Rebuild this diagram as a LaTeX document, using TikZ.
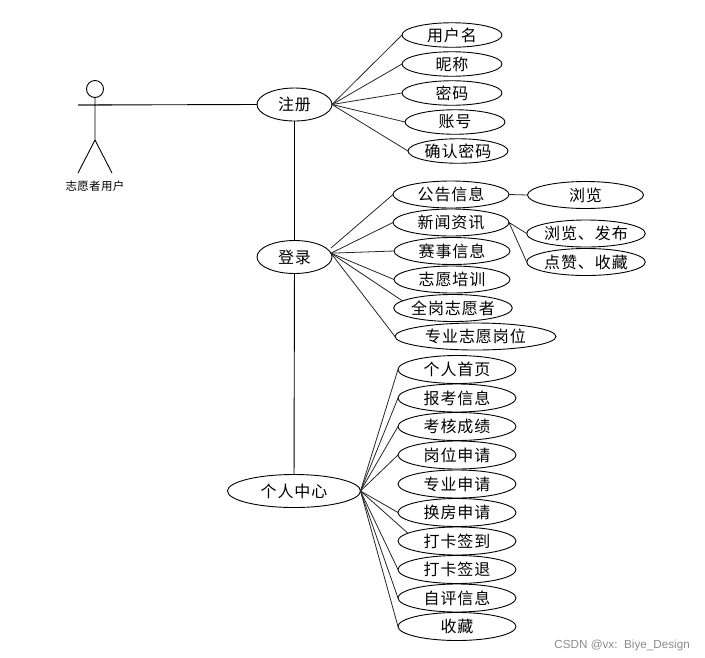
\documentclass[tikz,border=0pt]{standalone}
\usepackage{fontspec}
\setmainfont{Noto Sans CJK SC}
\newfontfamily\markfont{Liberation Sans}
\usetikzlibrary{shapes.geometric}
\tikzset{
  usecase/.style={ellipse, draw=black, line width=0.9pt, inner sep=0pt, outer sep=0pt,
    minimum width=#1, minimum height=27pt,
    font=\fontsize{16}{18}\selectfont\addfontfeature{LetterSpace=6}},
  usecase/.default={116pt},
  mainuse/.style={usecase=#1, minimum height=33pt},
  stick/.style={draw=black, line width=0.9pt},
  assoc/.style={draw=black!85, line width=0.8pt},
}

\begin{document}
\begin{tikzpicture}[x=1pt,y=-1pt]
  \useasboundingbox (0,0) rectangle (705,657);
  % actor
  \node[circle, stick, minimum size=17pt, inner sep=0pt, outer sep=0pt] (head) at (95,89) {};
  \coordinate (hand) at (78,105);
  \coordinate (handr) at (112,105);
  \coordinate (hip) at (95,140);
  \coordinate (footl) at (78,173);
  \coordinate (footr) at (112,173);
  \draw[stick] (head.south) -- (hip) (hip) -- (footl) (hip) -- (footr) (hand) -- (handr);
  \node[font=\fontsize{11.5}{13}\selectfont\addfontfeature{LetterSpace=3}] (actor) at (95,186) {志愿者用户};

  % main use cases
  \node[mainuse=75pt] (reg) at (294.5,104.5) {注册};
  \node[mainuse=75pt] (login) at (294.5,257) {登录};
  \node[mainuse=133pt] (home) at (294,491) {个人中心};
  \draw[stick] (hand) -- (reg.west);
  \draw[stick] (reg) -- (login);
  \draw[stick] (login) -- (home);

  % register
  \node[usecase=100pt, minimum height=24.5pt] (uname) at (452,35) {用户名};
  \node[usecase=100pt, minimum height=24.5pt] (nick) at (452,64) {昵称};
  \node[usecase=100pt, minimum height=24.5pt] (pwd) at (452,93) {密码};
  \node[usecase=100pt, minimum height=24.5pt] (account) at (455,122) {账号};
  \node[usecase=100pt, minimum height=24.5pt] (confirm) at (458,151) {确认密码};
  \foreach \item in {uname,nick,pwd,account,confirm}
    \draw[assoc] (reg.east) -- (\item.west);

  % login
  \node[usecase] (notice) at (451,194.5) {公告信息};
  \node[usecase] (news) at (451,222.5) {新闻资讯};
  \node[usecase] (match) at (452,251) {赛事信息};
  \node[usecase] (train) at (452,279.5) {志愿培训};
  \node[usecase] (fulltime) at (453,308) {全岗志愿者};
  \node[usecase=161pt] (major) at (475.5,336.5) {专业志愿岗位};
  \node[usecase] (browse) at (585.5,195) {浏览};
  \node[usecase] (publish) at (586,233.5) {浏览、发布};
  \node[usecase] (like) at (586,262) {点赞、收藏};
  \coordinate (loginup) at (331,248);
  \draw[assoc] (loginup) -- (notice.west);
  \foreach \item in {news,match,train}
    \draw[assoc] (login.6) -- (\item.west);
  \draw[assoc] (login.6) -- (fulltime.172);
  \draw[assoc] (login.6) -- (major.west);
  \draw[assoc] (notice.east) -- (browse.west);
  \draw[assoc] (news.east) -- (publish.west);
  \draw[assoc] (news.east) -- (like.west);

  % personal centre
  \node[usecase=118pt, minimum height=28pt] (page) at (457,369.5) {个人首页};
  \node[usecase=118pt, minimum height=28pt] (exam) at (457,398) {报考信息};
  \node[usecase=118pt, minimum height=28pt] (score) at (457,426.5) {考核成绩};
  \node[usecase=118pt, minimum height=28pt] (post) at (457,455) {岗位申请};
  \node[usecase=118pt, minimum height=28pt] (subject) at (457,484) {专业申请};
  \node[usecase=118pt, minimum height=28pt] (room) at (457,512.5) {换房申请};
  \node[usecase=118pt, minimum height=28pt] (checkin) at (457,541) {打卡签到};
  \node[usecase=118pt, minimum height=28pt] (checkout) at (457,569.5) {打卡签退};
  \node[usecase=118pt, minimum height=28pt] (review) at (457,598) {自评信息};
  \node[usecase=118pt, minimum height=28pt] (fav) at (457,626.5) {收藏};
  \foreach \item in {page,exam,score,post,room,checkout,review,fav}
    \draw[assoc] (home.east) -- (\item.west);
  \draw[assoc] (home.east) -- (checkin.171);

  \node[font=\markfont\fontsize{11.7}{13}\selectfont, text=black!45, anchor=east, inner sep=0pt] (mark) at (690,645) {CSDN @vx:\ \ Biye\_Design};
\end{tikzpicture}
\end{document}
